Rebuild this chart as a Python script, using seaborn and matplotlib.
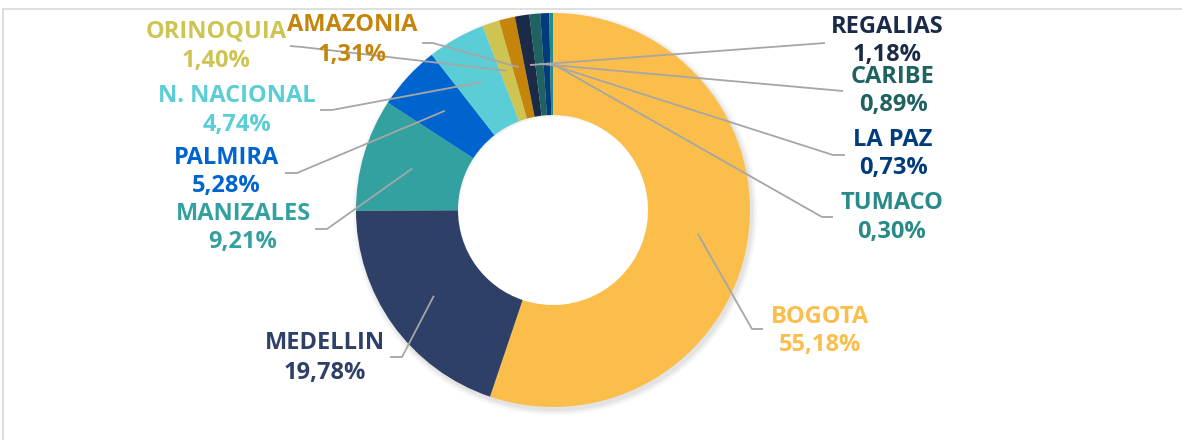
import numpy as np
import matplotlib
matplotlib.use("Agg")
import matplotlib.pyplot as plt
import seaborn as sns
from matplotlib.lines import Line2D

# ---- data ----
categories = ["BOGOTA", "MEDELLIN", "MANIZALES", "PALMIRA", "N. NACIONAL",
              "ORINOQUIA", "AMAZONIA", "REGALIAS", "CARIBE", "LA PAZ", "TUMACO"]
shares = [55.18, 19.78, 9.21, 5.28, 4.74, 1.40, 1.31, 1.18, 0.89, 0.73, 0.30]
colors = ["#FBBE4B", "#2E4068", "#33A1A0", "#0064CF", "#5BCDD6",
          "#CEC452", "#C4850A", "#1B2A47", "#1E6262", "#003B7C", "#238A8A"]
text_colors = ["#FBBE4B", "#2E4068", "#33A1A0", "#0064CF", "#5BCDD6",
               "#CEC452", "#C4850A", "#1B2A47", "#1E6262", "#003B7C", "#2A8A8A"]

# ---- layout (pixel coordinates, y from top) ----
W, H = 1182, 440
CX, CY = 553, 210
R_OUT, R_IN = 197, 95
label_pos = {  # x center, name y, pct y
    "BOGOTA": (820, 317, 345),
    "MEDELLIN": (325, 343, 373),
    "MANIZALES": (243, 214, 242),
    "PALMIRA": (226, 158, 186),
    "N. NACIONAL": (237, 96, 125),
    "ORINOQUIA": (216, 31, 61),
    "AMAZONIA": (352, 25, 55),
    "REGALIAS": (887, 27, 55),
    "CARIBE": (893, 77, 105),
    "LA PAZ": (893, 140, 168),
    "TUMACO": (892, 203, 232),
}
leader_pts = {  # elbow, end
    "BOGOTA": [(752, 329), (763, 329)],
    "MEDELLIN": [(402, 357), (390, 357)],
    "MANIZALES": [(327, 229), (315, 229)],
    "PALMIRA": [(297, 173), (285, 173)],
    "N. NACIONAL": [(332, 110), (320, 110)],
    "ORINOQUIA": [(302, 47), (290, 46)],
    "AMAZONIA": [(433, 43), (422, 43)],
    "REGALIAS": [(825, 43)],
    "CARIBE": [(843, 91)],
    "LA PAZ": [(833, 155), (845, 155)],
    "TUMACO": [(822, 217), (833, 217)],
}

sns.set_theme(style="white")
plt.rcParams["font.family"] = ["Open Sans", "DejaVu Sans"]

fig = plt.figure(figsize=(W / 100, H / 100), dpi=100)
fig.patch.set_facecolor("white")
ax = fig.add_axes([0, 0, 1, 1])


def Y(y):
    return H - y


# soft shadow
for k, a in enumerate([0.035, 0.03, 0.025, 0.02]):
    ax.pie([1], colors=["#000000"], radius=R_OUT + 1 + k * 1.5,
           center=(CX + 2, Y(CY) - 3),
           wedgeprops=dict(width=R_OUT - R_IN, alpha=a, edgecolor="none"))

wedges, _ = ax.pie(shares, colors=colors, startangle=90, counterclock=False,
                   radius=R_OUT, center=(CX, Y(CY)),
                   wedgeprops=dict(width=R_OUT - R_IN, edgecolor="none"))

ax.set_xlim(0, W)
ax.set_ylim(0, H)
ax.set_aspect("equal")
ax.axis("off")

r_mid = 0.745 * R_OUT
for w, name, tc in zip(wedges, categories, text_colors):
    th = np.deg2rad((w.theta1 + w.theta2) / 2)
    sx = CX + r_mid * np.cos(th)
    sy = Y(CY) + r_mid * np.sin(th)
    pts = [(sx, sy)] + [(x, Y(y)) for x, y in leader_pts[name]]
    ax.plot([p[0] for p in pts], [p[1] for p in pts], color="#A6A6A6",
            lw=1.3, solid_capstyle="butt", zorder=3)

for name, v, tc in zip(categories, shares, text_colors):
    x, yn, yp = label_pos[name]
    ax.text(x, Y(yn), name, color=tc, ha="center", va="center",
            fontsize=17, fontweight="bold", zorder=4)
    ax.text(x, Y(yp), f"{v:.2f}".replace(".", ",") + "%", color=tc,
            ha="center", va="center", fontsize=17, fontweight="bold", zorder=4)

# frame lines
fig.add_artist(Line2D([3 / W, 1], [1 - 9 / H, 1 - 9 / H], color="#D9D9D9",
                      lw=1.2, transform=fig.transFigure))
fig.add_artist(Line2D([3 / W, 3 / W], [0, 1 - 9 / H], color="#D9D9D9",
                      lw=1.2, transform=fig.transFigure))

fig.savefig("out.png", dpi=100, facecolor="white")
